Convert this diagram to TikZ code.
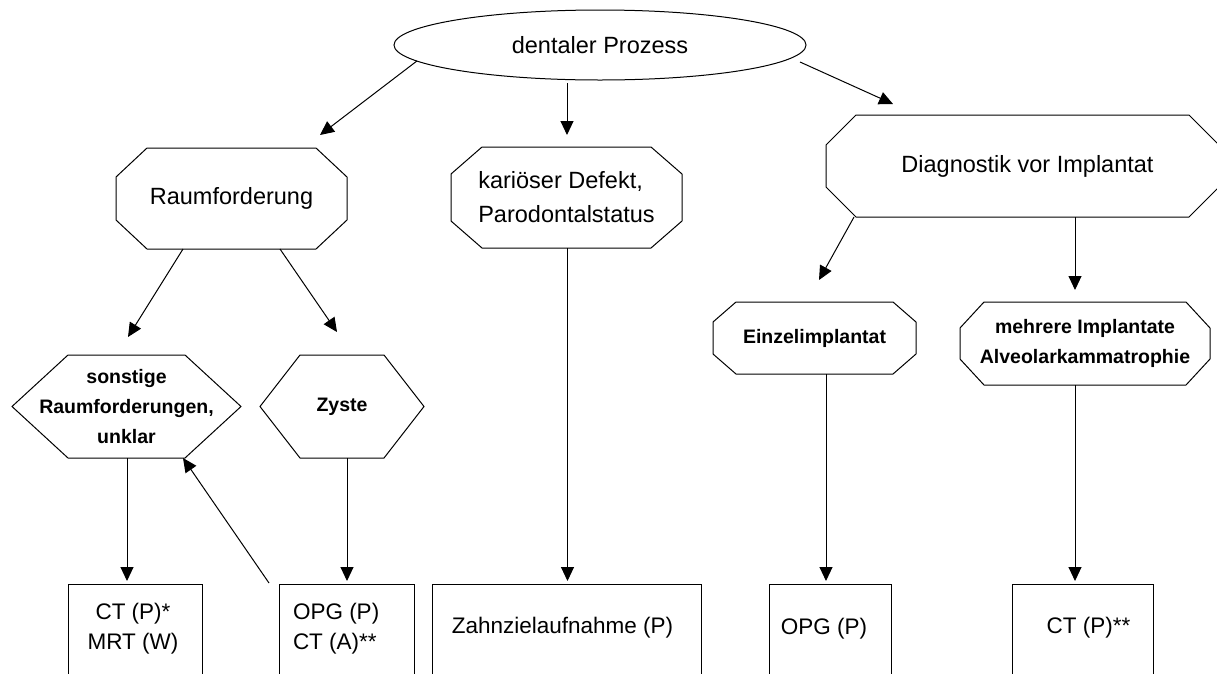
\documentclass[tikz,border=0pt]{standalone}
\usepackage{fontspec}
\setmainfont{Liberation Sans}
\usetikzlibrary{arrows.meta,calc,shapes.geometric}
\newcommand\fA{\fontsize{23.5}{34}\selectfont}
\newcommand\fB{\fontsize{22.5}{30}\selectfont}
\newcommand\fC{\fontsize{19.5}{30}\selectfont\bfseries}
\newcommand\octa[3]{\draw[shp] ([xshift=#2pt]#1.north west) -- ([xshift=-#2pt]#1.north east) -- ([yshift=-#3pt]#1.north east) -- ([yshift=#3pt]#1.south east) -- ([xshift=-#2pt]#1.south east) -- ([xshift=#2pt]#1.south west) -- ([yshift=#3pt]#1.south west) -- ([yshift=-#3pt]#1.north west) -- cycle;}
\newcommand\hexa[2]{\draw[shp] ([xshift=#2pt]#1.north west) -- ([xshift=-#2pt]#1.north east) -- (#1.east) -- ([xshift=-#2pt]#1.south east) -- ([xshift=#2pt]#1.south west) -- (#1.west) -- cycle;}
\begin{document}
\begin{tikzpicture}[x=1pt,y=-1pt,line width=1pt,
  shp/.style={draw=black,line width=1pt},
  arr/.style={-{Triangle[length=14pt,width=13pt]},line width=1pt},
  nd/.style={inner sep=0pt,outer sep=0pt,align=center}]
\useasboundingbox (0,0) rectangle (1217,673);
\clip (0,0) rectangle (1217,673);
\fill[white] (0,0) rectangle (1217,673);
% top
\node[nd,ellipse,draw,minimum width=412pt,minimum height=70pt,font=\fA] (ell) at (600,45) {dentaler Prozess};
% octagons
\node[nd,minimum width=231pt,minimum height=101pt,font=\fA] (raum) at (231.5,198.5) {Raumforderung};
\node[nd,minimum width=231pt,minimum height=101pt,font=\fA,align=left] (kar) at (566.5,197.5) {kariöser Defekt,\\Parodontalstatus};
\node[nd,minimum width=393pt,minimum height=102pt,font=\fA] (diag) at (1022.5,166) {\hspace*{10pt}Diagnostik vor Implantat};
\node[nd,minimum width=203pt,minimum height=72pt,font=\fC] (einz) at (814.5,338) {Einzelimplantat};
\node[nd,minimum width=250pt,minimum height=83pt,font=\fC] (mehr) at (1085,343.5) {mehrere Implantate\\Alveolarkammatrophie};
% hexagons
\node[nd,minimum width=229pt,minimum height=103pt,font=\fC] (sons) at (126.5,406.5) {sonstige\\Raumforderungen,\\unklar};
\node[nd,minimum width=164pt,minimum height=103pt,font=\fC] (zyst) at (342,406.5) {Zyste};
\octa{raum}{31}{29}
\octa{kar}{31}{27}
\octa{diag}{30}{30}
\octa{einz}{23}{20}
\octa{mehr}{24}{26}
\hexa{sons}{56}
\hexa{zyst}{40}
% boxes
\node[nd,draw,minimum width=134pt,minimum height=120pt] (ctp) at (135,644) {};
\node[nd,draw,minimum width=135pt,minimum height=120pt] (opg) at (346.5,644) {};
\node[nd,draw,minimum width=269pt,minimum height=120pt] (zahn) at (566.5,644) {};
\node[nd,draw,minimum width=122pt,minimum height=120pt] (opgp) at (830,644) {};
\node[nd,draw,minimum width=141pt,minimum height=120pt] (ctpp) at (1082.5,644) {};
\node[nd,font=\fB] (ctpt) at (133,629) {CT (P)*\\MRT (W)};
\node[nd,font=\fB,align=left,anchor=west] (opgt) at (293,629) {OPG (P)\\CT (A)**};
\node[nd,font=\fB] (zahnt) at (562.5,628) {Zahnzielaufnahme (P)};
\node[nd,font=\fB] (opgpt) at (824,629) {OPG (P)};
\node[nd,font=\fB] (ctppt) at (1088.5,628) {CT (P)**};
% arrows
\draw[arr] (ell.185.8) -- ($(raum.north east)+(-27,-13)$);
\draw[arr] ($(ell.south)+(-33,3)$) -- ($(kar.north)+(0.5,-12)$);
\draw[arr] ($(ell.east)+(-6,17)$) -- ($(diag.north west)+(67,-11)$);
\draw[arr] ($(raum.south)+(-48.5,0)$) -- ($(sons.north)+(1.5,-18)$);
\draw[arr] ($(raum.south)+(48.5,0)$) -- ($(zyst.north)+(-5,-23)$);
\draw[arr] ($(diag.south west)+(28,0)$) -- ($(einz.north)+(4.5,-22)$);
\draw[arr] ($(diag.south)+(52.5,0)$) -- ($(mehr.north)+(-10,-12)$);
\draw[arr] ($(sons.south)+(0.5,0)$) -- ($(ctp.north)+(-8,-3)$);
\draw[arr] ($(opg.north west)+(-10,-1)$) -- ($(sons.south east)+(-58,0)$);
\draw[arr] ($(zyst.south)+(5,0)$) -- ($(opg.north)+(0.5,-3)$);
\draw[arr] ($(kar.south)+(1,0)$) -- ($(zahn.north)+(1,-3)$);
\draw[arr] ($(einz.south)+(11.5,0)$) -- ($(opgp.north)+(-4,-3)$);
\draw[arr] ($(mehr.south)+(-10,0)$) -- ($(ctpp.north)+(-7.5,-3)$);
\end{tikzpicture}
\end{document}
